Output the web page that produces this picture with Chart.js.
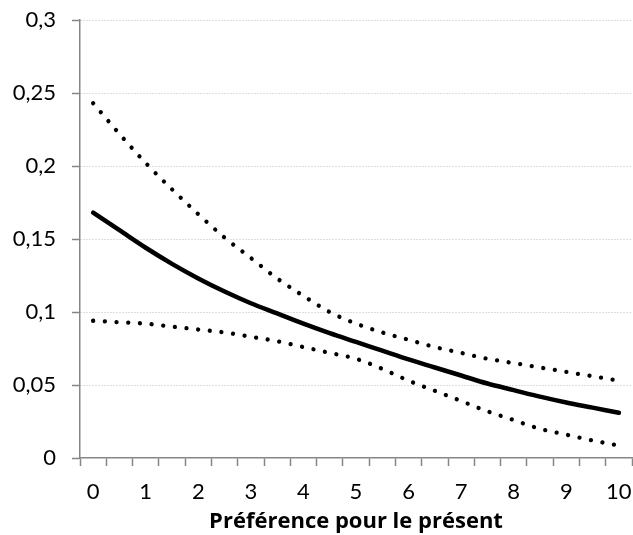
<!DOCTYPE html>
<html>
<head>
<meta charset="utf-8">
<script src="https://cdn.jsdelivr.net/npm/chart.js@4"></script>
<style>
    html, body { margin: 0; padding: 0; background: #fff; }
    #grafico { display: block; }
</style>
</head>
<body>
<canvas id="grafico" width="633" height="535"></canvas>
<script>
// categorias do eixo x (0 a 10 de 0,5 em 0,5)
const categorias = ['0', '0,5', '1', '1,5', '2', '2,5', '3', '3,5', '4', '4,5', '5',
    '5,5', '6', '6,5', '7', '7,5', '8', '8,5', '9', '9,5', '10'];

// efeito estimado e intervalo de confiança
const estimativa = [0.168, 0.156, 0.144, 0.133, 0.123, 0.114, 0.106, 0.099, 0.092, 0.0855, 0.0795,
    0.0735, 0.0675, 0.062, 0.0565, 0.051, 0.0465, 0.042, 0.038, 0.0345, 0.031];
const limiteSuperior = [0.243, 0.222, 0.202, 0.184, 0.167, 0.151, 0.137, 0.123, 0.111, 0.100, 0.092,
    0.086, 0.081, 0.076, 0.072, 0.068, 0.065, 0.062, 0.059, 0.056, 0.053];
const limiteInferior = [0.094, 0.093, 0.092, 0.090, 0.088, 0.086, 0.083, 0.080, 0.076, 0.072, 0.068,
    0.061, 0.053, 0.046, 0.039, 0.032, 0.026, 0.020, 0.016, 0.012, 0.0085];

const tituloX = 'Préférence pour le présent';

const fonte = 'Lato, "Noto Sans", sans-serif';
const fonteTitulo = '"Open Sans", "Noto Sans", sans-serif';
const cinzaEixo = '#868686';

const ctx = document.getElementById('grafico').getContext('2d');

const pontilhado = {
    borderColor: '#000',
    borderWidth: 4.3,
    borderDash: [0.01, 11.7],
    borderCapStyle: 'round',
    pointRadius: 0,
    fill: false,
    cubicInterpolationMode: 'monotone'
};

window.grafico = new Chart(ctx, {
    type: 'line',
    data: {
        labels: categorias,
        datasets: [
            Object.assign({ label: 'Limite superior', data: limiteSuperior }, pontilhado),
            {
                label: 'Estimativa',
                data: estimativa,
                borderColor: '#000',
                borderWidth: 4.5,
                borderCapStyle: 'round',
                pointRadius: 0,
                fill: false,
                cubicInterpolationMode: 'monotone'
            },
            Object.assign({ label: 'Limite inferior', data: limiteInferior }, pontilhado)
        ]
    },
    options: {
        responsive: false,
        animation: false,
        layout: { padding: { top: 20, right: 1, bottom: 0, left: 0 } },
        plugins: {
            legend: { display: false },
            tooltip: { enabled: false }
        },
        scales: {
            x: {
                offset: true,
                grid: {
                    offset: true,
                    drawOnChartArea: false,
                    drawTicks: true,
                    tickLength: 8,
                    tickColor: cinzaEixo,
                    tickWidth: 1.5
                },
                border: { color: cinzaEixo, width: 1.5 },
                ticks: {
                    autoSkip: false,
                    maxRotation: 0,
                    padding: 13,
                    color: '#000',
                    font: { family: fonte, size: 22 },
                    callback: (valor, i) => (i % 2 === 0 ? categorias[i] : '')
                },
                title: {
                    display: true,
                    text: tituloX,
                    color: '#000',
                    font: { family: fonteTitulo, size: 22, weight: 'bold' },
                    padding: { top: 0, bottom: 0 }
                },
                afterFit: (escala) => {
                    escala.height = 77;
                    escala.paddingLeft = 0;
                    escala.paddingRight = 0;
                }
            },
            y: {
                min: 0,
                max: 0.3,
                grid: {
                    color: (c) => (c.tick && c.tick.value === 0 ? 'rgba(0,0,0,0)' : '#bdbdbd'),
                    lineWidth: 1,
                    tickLength: 8,
                    tickColor: cinzaEixo,
                    tickWidth: 1.5,
                    tickBorderDash: []
                },
                border: { color: cinzaEixo, width: 1.5, dash: [1, 2] },
                ticks: {
                    stepSize: 0.05,
                    padding: 16,
                    color: '#000',
                    font: { family: fonte, size: 22 },
                    callback: (valor) => String(Math.round(valor * 100) / 100).replace('.', ',')
                },
                afterFit: (escala) => {
                    escala.width = 80;
                    escala.paddingTop = 0;
                    escala.paddingBottom = 0;
                }
            }
        }
    }
});
</script>
</body>
</html>
